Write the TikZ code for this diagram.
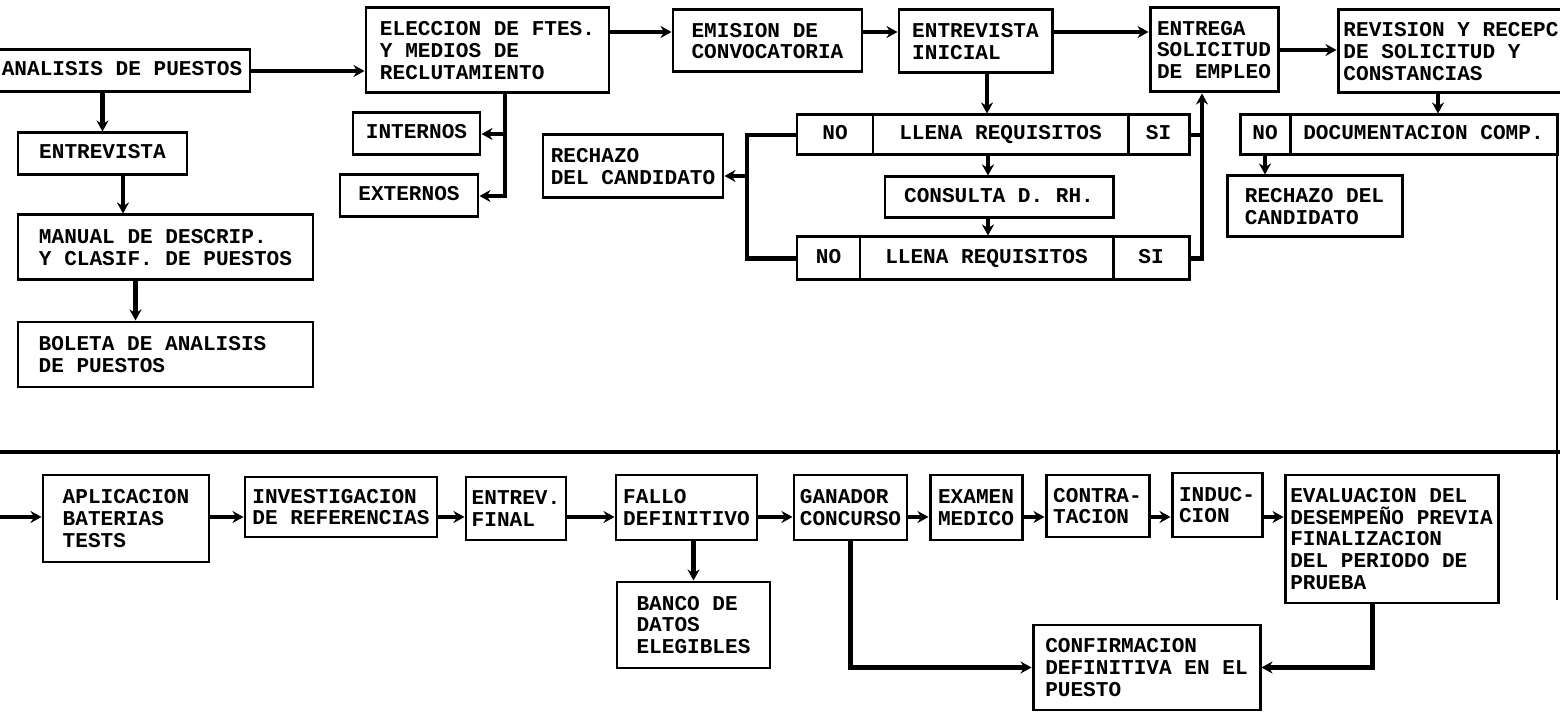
\documentclass[tikz,border=0pt]{standalone}
\usepackage{fontspec}
\setmonofont{Liberation Mono}
\usetikzlibrary{arrows.meta}
\tikzset{
  every picture/.style={font=\ttfamily\bfseries\fontsize{12}{12.4}\selectfont},
  caja/.style={draw, line width=1.7pt, align=left, inner sep=2pt},
  celda/.style={text height=1.6ex, text depth=0.4ex},
  arr/.style={-{Stealth[length=2.2mm, width=2.4mm]}, line width=2.4pt},
  linea/.style={line width=2.4pt},
}
\newcommand{\caja}[7][]{ % options, name, x1, y1, x2, y2, text
  \node[caja, #1, minimum width={(#5-#3)*0.02cm}, minimum height={(#6-#4)*0.02cm}] (#2) at ({(#3+#5)/2},{(#4+#6)/2}) {#7};
}

\begin{document}
\begin{tikzpicture}[x=0.02cm, y=-0.02cm]
  \path[use as bounding box, fill=white] (0,0) rectangle (1560,715);
  % reclutamiento
  \caja[celda]{analisis}{-6}{50}{250}{92}{ANALISIS DE PUESTOS}
  \caja[celda]{entrev}{18}{133}{187}{175}{ENTREVISTA}
  \caja{manual}{18}{215}{313}{280}{MANUAL DE DESCRIP.\\Y CLASIF. DE PUESTOS}
  \caja{boleta}{18}{322}{313}{387}{BOLETA DE ANALISIS\hspace*{0.52cm}\\DE PUESTOS}
  \caja{elec}{366}{8}{609}{93}{ELECCION DE FTES.\\Y MEDIOS DE\\RECLUTAMIENTO}
  \caja[celda]{internos}{353}{113}{480}{155}{INTERNOS}
  \caja[celda]{externos}{340}{175}{478}{217}{EXTERNOS}
  \caja{emision}{673}{10}{862}{72}{EMISION DE\\CONVOCATORIA}
  \caja{inicial}{899}{10}{1052}{73}{ENTREVISTA\\INICIAL}
  \caja{entrega}{1150}{8}{1278}{92}{ENTREGA\\SOLICITUD\\DE EMPLEO}
  \caja{revision}{1338}{10}{1564}{93}{REVISION Y RECEPC\\DE SOLICITUD Y\\CONSTANCIAS}
  % requisitos
  \caja[celda]{no1}{797}{115}{873}{155}{NO}
  \caja[celda]{llena1}{873}{115}{1128}{155}{LLENA REQUISITOS}
  \caja[celda]{si1}{1128}{115}{1189}{155}{SI}
  \caja[celda]{consulta}{885}{177}{1113}{218}{CONSULTA D. RH.}
  \caja[celda]{no2}{797}{237}{860}{280}{NO}
  \caja[celda]{llena2}{860}{237}{1113}{280}{LLENA REQUISITOS}
  \caja[celda]{si2}{1113}{237}{1189}{280}{SI}
  \caja{rechazo1}{543}{135}{723}{198}{RECHAZO\\DEL CANDIDATO}
  \caja[celda]{nodoc}{1240}{115}{1290}{155}{NO}
  \caja[celda]{docum}{1290}{115}{1557}{155}{DOCUMENTACION COMP.}
  \caja{rechazo2}{1227}{176}{1402}{237}{RECHAZO DEL\\CANDIDATO}
  % seleccion
  \caja{aplic}{43}{475}{209}{562}{APLICACION\\BATERIAS\\TESTS}
  \caja{invest}{245}{477}{437}{537}{INVESTIGACION\\DE REFERENCIAS}
  \caja{final}{466}{477}{566}{540}{ENTREV.\\FINAL}
  \caja{fallo}{616}{475}{757}{540}{FALLO\\DEFINITIVO}
  \caja{banco}{617}{582}{770}{668}{BANCO DE\\DATOS\\ELEGIBLES}
  \caja{ganador}{794}{475}{907}{540}{GANADOR\\CONCURSO}
  \caja{examen}{930}{475}{1022}{540}{EXAMEN\\MEDICO}
  \caja{contrat}{1046}{475}{1149}{537}{CONTRA-\\TACION}
  \caja{induc}{1172}{473}{1262}{537}{INDUC-\\CION}
  \caja{evalua}{1285}{475}{1498}{603}{EVALUACION DEL\\DESEMPEÑO PREVIA\\FINALIZACION\\DEL PERIODO DE\\PRUEBA}
  \caja{confirm}{1033}{625}{1260}{710}{CONFIRMACION\\DEFINITIVA EN EL\hspace*{0.24cm}\\PUESTO}
  \coordinate (fila1) at (0,32);
  \coordinate (fila2) at (0,517);
  \coordinate (entrada) at (0,517);
  \coordinate (nobus) at (747,0);
  \coordinate (sibus) at ([xshift=-0.24cm]entrega.south);
  % flechas arriba
  \draw[arr] (analisis.east) -- (elec.west |- analisis.east);
  \draw[arr] (analisis.south -| entrev.north) -- (entrev.north);
  \draw[arr] ([xshift=0.41cm]entrev.south) -- ([xshift=0.41cm]entrev.south |- manual.north);
  \draw[arr] ([xshift=-0.6cm]manual.south) -- ([xshift=-0.6cm]manual.south |- boleta.north);
  \draw[arr] ([xshift=0.35cm]elec.south) |- (internos.east);
  \draw[arr] ([xshift=0.35cm]elec.south) |- (externos.east);
  \draw[arr] (elec.east |- fila1) -- (emision.west |- fila1);
  \draw[arr] (emision.east |- fila1) -- (inicial.west |- fila1);
  \draw[arr] (inicial.east |- fila1) -- (entrega.west |- fila1);
  \draw[arr] (entrega.east) -- (revision.west |- entrega.east);
  \draw[arr] ([xshift=0.23cm]inicial.south) -- ([xshift=0.23cm]inicial.south |- llena1.north);
  \draw[arr] ([xshift=-0.22cm]consulta.north |- llena1.south) -- ([xshift=-0.22cm]consulta.north);
  \draw[arr] ([xshift=-0.22cm]consulta.south) -- ([xshift=-0.22cm]consulta.south |- llena2.north);
  \draw[linea] (no1.west) -| (nobus |- no2.west) -- (no2.west);
  \draw[arr] ([yshift=-0.19cm]rechazo1.east -| nobus) -- ([yshift=-0.19cm]rechazo1.east);
  \draw[arr] (si2.east) -| (sibus);
  \draw[linea] (si1.east) -- (si1.east -| sibus);
  \draw[arr] ([xshift=-0.26cm]revision.south) -- ([xshift=-0.26cm]revision.south |- docum.north);
  \draw[arr] (nodoc.south) -- (nodoc.south |- rechazo2.north);
  % division
  \draw[linea] (0,452) -- (1560,452);
  \draw[line width=1.2pt] (1557,155) -- (1557,600);
  % flechas abajo
  \draw[arr] (entrada) -- (aplic.west |- entrada);
  \draw[arr] (aplic.east |- fila2) -- (invest.west |- fila2);
  \draw[arr] (invest.east |- fila2) -- (final.west |- fila2);
  \draw[arr] (final.east |- fila2) -- (fallo.west |- fila2);
  \draw[arr] (fallo.east |- fila2) -- (ganador.west |- fila2);
  \draw[arr] (ganador.east |- fila2) -- (examen.west |- fila2);
  \draw[arr] (examen.east |- fila2) -- (contrat.west |- fila2);
  \draw[arr] (contrat.east |- fila2) -- (induc.west |- fila2);
  \draw[arr] (induc.east |- fila2) -- (evalua.west |- fila2);
  \draw[arr] (fallo.south -| banco.north) -- (banco.north);
  \draw[arr] (ganador.south) |- (confirm.west);
  \draw[arr] ([xshift=-0.38cm]evalua.south) |- (confirm.east);
\end{tikzpicture}
\end{document}
